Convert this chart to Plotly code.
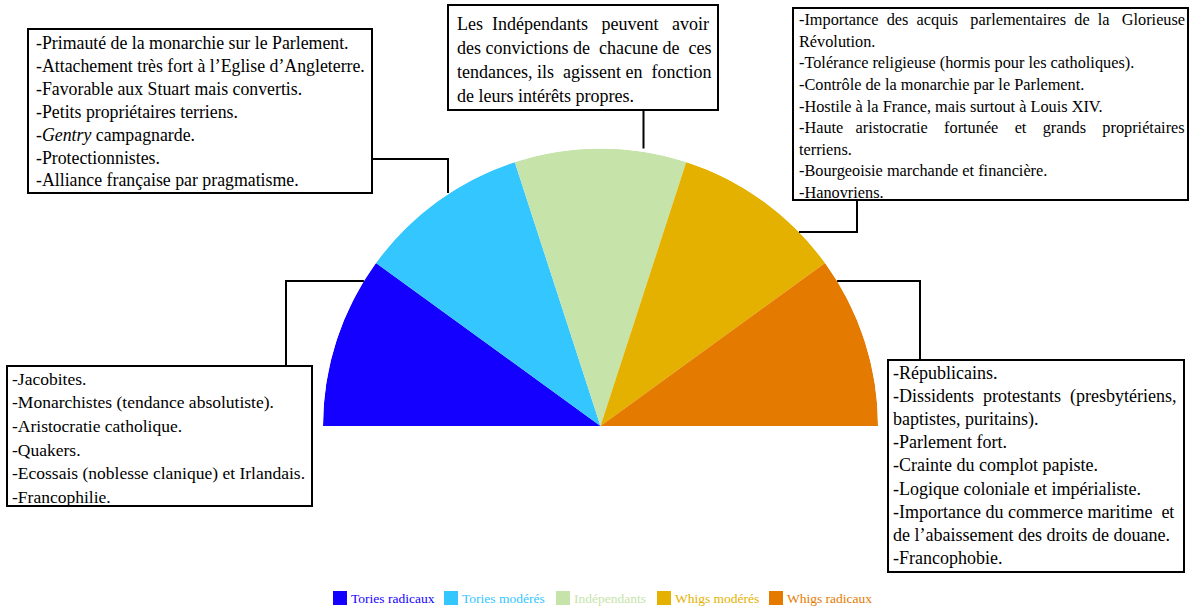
import math
import plotly.graph_objects as go

W, H = 1192, 606

# ---------------- data ----------------
categories = ["Tories radicaux", "Tories modérés", "Indépendants", "Whigs modérés", "Whigs radicaux"]
shares = [1, 1, 1, 1, 1]
colors = ["#1400FF", "#33C6FF", "#C6E4AA", "#E5B100", "#E57A00"]

box_tories_radicaux = [
    "-Jacobites.",
    "-Monarchistes (tendance absolutiste).",
    "-Aristocratie catholique.",
    "-Quakers.",
    "-Ecossais (noblesse clanique) et Irlandais.",
    "-Francophilie.",
]
box_tories_moderes = [
    "-Primauté de la monarchie sur le Parlement.",
    "-Attachement très fort à l’Eglise d’Angleterre.",
    "-Favorable aux Stuart mais convertis.",
    "-Petits propriétaires terriens.",
    "-<i>Gentry</i> campagnarde.",
    "-Protectionnistes.",
    "-Alliance française par pragmatisme.",
]
box_independants = [
    "Les Indépendants peuvent avoir",
    "des convictions de chacune de ces",
    "tendances, ils agissent en fonction",
    "de leurs intérêts propres.",
]
box_whigs_moderes = [
    "-Importance des acquis parlementaires de la Glorieuse",
    "Révolution.",
    "-Tolérance religieuse (hormis pour les catholiques).",
    "-Contrôle de la monarchie par le Parlement.",
    "-Hostile à la France, mais surtout à Louis XIV.",
    "-Haute aristocratie fortunée et grands propriétaires",
    "terriens.",
    "-Bourgeoisie marchande et financière.",
    "-Hanovriens.",
]
box_whigs_radicaux = [
    "-Républicains.",
    "-Dissidents protestants (presbytériens,",
    "baptistes, puritains).",
    "-Parlement fort.",
    "-Crainte du complot papiste.",
    "-Logique coloniale et impérialiste.",
    "-Importance du commerce maritime et",
    "de l’abaissement des droits de douane.",
    "-Francophobie.",
]

# ---------------- geometry helpers ----------------
def X(px):
    return px / W

def Y(py):
    return 1 - py / H

CX, CY, R = 600.5, 426, 277.5
SERIF = "Liberation Serif"

fig = go.Figure()

total = sum(shares)
start = 180.0
for name, s, c in zip(categories, shares, colors):
    width = 180.0 * s / total
    theta = start - width / 2
    start -= width
    fig.add_trace(go.Barpolar(
        r=[1], theta=[theta], width=[width], name=name,
        marker=dict(color=c, line=dict(width=0)),
        showlegend=False, hoverinfo="name",
    ))

fig.update_layout(
    polar=dict(
        domain=dict(x=[X(CX - R), X(CX + R)], y=[Y(CY), Y(CY - R)]),
        sector=[0, 180],
        bgcolor="rgba(0,0,0,0)",
        radialaxis=dict(visible=False, range=[0, 1]),
        angularaxis=dict(visible=False, direction="counterclockwise", rotation=0),
        bargap=0,
    ),
)

shapes = []
annotations = []
NBSP = "\u00a0"

def justify(text, extra):
    """Widen a line by inserting `extra` non-breaking spaces spread over its gaps."""
    if extra <= 0:
        return text
    words = text.split(" ")
    gaps = len(words) - 1
    out = words[0]
    for i in range(gaps):
        n = (extra * (i + 1)) // gaps - (extra * i) // gaps
        out += " " + NBSP * n + words[i + 1]
    return out

def add_box(x0, y0, x1, y1):
    shapes.append(dict(type="rect", xref="paper", yref="paper",
                       x0=X(x0), x1=X(x1), y0=Y(y0), y1=Y(y1),
                       line=dict(color="black", width=2), fillcolor="white", layer="above"))

def add_poly(pts):
    path = "M " + " L ".join(f"{X(a)},{Y(b)}" for a, b in pts)
    shapes.append(dict(type="path", xref="paper", yref="paper", path=path,
                       line=dict(color="black", width=2), layer="above"))

def add_lines(lines, x, y0, dy, size, extras=None):
    extras = extras or {}
    for i, t in enumerate(lines):
        annotations.append(dict(
            text=justify(t, extras.get(i, 0)), x=X(x), y=Y(y0 + i * dy),
            xref="paper", yref="paper",
            xanchor="left", yanchor="middle", showarrow=False, align="left",
            font=dict(family=SERIF, size=size, color="black"),
        ))

def arc_x(py, side):
    return CX + side * math.sqrt(R * R - (CY - py) ** 2)

# connectors
add_poly([(286, 366), (286, 281), (arc_x(281, -1), 281)])
add_poly([(372, 159), (448, 159), (448, 193)])
add_poly([(643.5, 110), (643.5, CY - R)])
add_poly([(857, 201), (857, 232), (arc_x(232, 1), 232)])
add_poly([(920, 360), (920, 281), (arc_x(281, 1), 281)])

# boxes
add_box(7, 366, 312, 506)
add_lines(box_tories_radicaux, 10, 378.5, 23.7, 17.5)
add_box(28, 29, 372, 193)
add_lines(box_tories_moderes, 34, 43, 22.9, 17.8)
add_box(448, 5, 718, 110)
add_lines(box_independants, 455, 24, 24, 18, {0: 5, 1: 2, 2: 2})
add_box(793, 8, 1188, 200)
add_lines(box_whigs_moderes, 797, 20, 21.5, 16.3, {0: 8, 5: 14})
add_box(888, 360, 1184, 572)
add_lines(box_whigs_radicaux, 891, 373, 23.1, 18, {1: 2, 6: 1})

# manual legend
leg_x = [333, 444, 556, 657, 769]
for lx, name, c in zip(leg_x, categories, colors):
    shapes.append(dict(type="rect", xref="paper", yref="paper",
                       x0=X(lx), x1=X(lx + 14), y0=Y(591), y1=Y(605),
                       line=dict(width=0), fillcolor=c))
    annotations.append(dict(
        text=name, x=X(lx + 16), y=Y(598), xref="paper", yref="paper",
        xanchor="left", yanchor="middle", showarrow=False,
        font=dict(family=SERIF, size=13.5, color=c),
    ))

fig.update_layout(
    width=W, height=H, autosize=False,
    margin=dict(l=0, r=0, t=0, b=0),
    paper_bgcolor="white", plot_bgcolor="white",
    shapes=shapes, annotations=annotations,
    showlegend=False,
)

fig.write_html("out.html", config={"displayModeBar": False},
               post_script="document.body.style.margin='0';")
